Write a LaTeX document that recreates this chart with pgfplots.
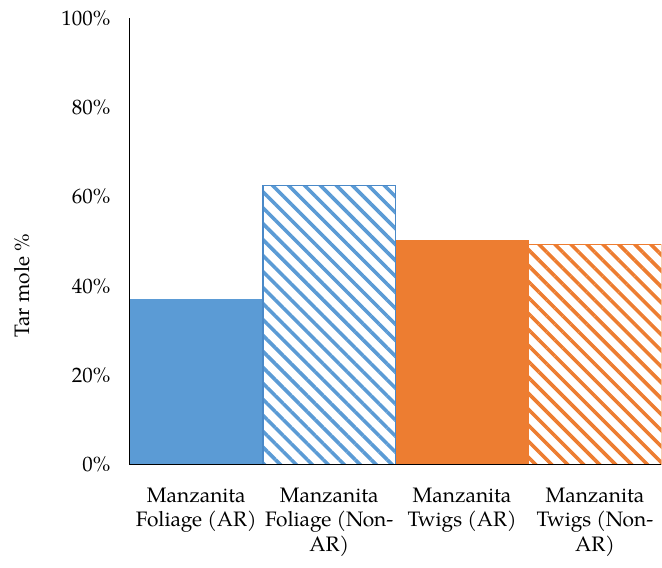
\documentclass[border=0pt]{standalone}
\usepackage{pgfplots}
\pgfplotsset{compat=1.18}
\usepackage{fontspec}
\setmainfont{TeX Gyre Pagella}
\usetikzlibrary{patterns.meta}

\definecolor{barblue}{HTML}{5B9BD5}
\definecolor{barblueline}{HTML}{4A89C8}
\definecolor{barorange}{HTML}{ED7D31}

\newcommand{\labelfont}{\fontsize{21}{24.5}\selectfont}

\begin{document}
\begin{tikzpicture}[x=1bp,y=1bp]
\begin{axis}[
  name=ax, at={(0,0)}, anchor=south west,
  scale only axis, width=532bp, height=447bp,
  xmin=-0.5, xmax=3.5, ymin=0, ymax=100,
  axis x line*=bottom, axis y line*=left,
  axis line style={black, line width=1.2bp, -},
  axis on top,
  major tick length=0pt,
  xtick={0,1,2,3},
  xticklabels={{Manzanita\\Foliage (AR)},{Manzanita\\Foliage (Non-\\AR)},{Manzanita\\Twigs (AR)},{Manzanita\\Twigs (Non-\\AR)}},
  xticklabel style={align=center, anchor=north, yshift=-20bp, font=\labelfont},
  ytick={0,20,40,60,80,100},
  yticklabels={0\%,20\%,40\%,60\%,80\%,100\%},
  yticklabel style={xshift=-16bp, font=\labelfont},
  ylabel={Tar mole \%},
  ylabel style={at={(axis description cs:-0.203,0.40)}, anchor=center, font=\labelfont},
  ybar, bar width=1,
]
% solid bars for AR, hatched bars for non-AR
\addplot[bar shift=0pt, fill=barblue, draw=none] coordinates {(0,37.1)};
\addplot[bar shift=0pt, pattern={Lines[angle=-45,distance=11.3bp,line width=3.6bp]}, pattern color=barblue, draw=barblueline, line width=1.5bp] coordinates {(1,62.5)};
\addplot[bar shift=0pt, fill=barorange, draw=none] coordinates {(2,50.3)};
\addplot[bar shift=0pt, pattern={Lines[angle=-45,distance=11.3bp,line width=3.6bp]}, pattern color=barorange, draw=barorange, line width=1.5bp] coordinates {(3,49.3)};
\end{axis}
\path[use as bounding box] (-130,-103) rectangle (532,465);
\end{tikzpicture}
\end{document}
